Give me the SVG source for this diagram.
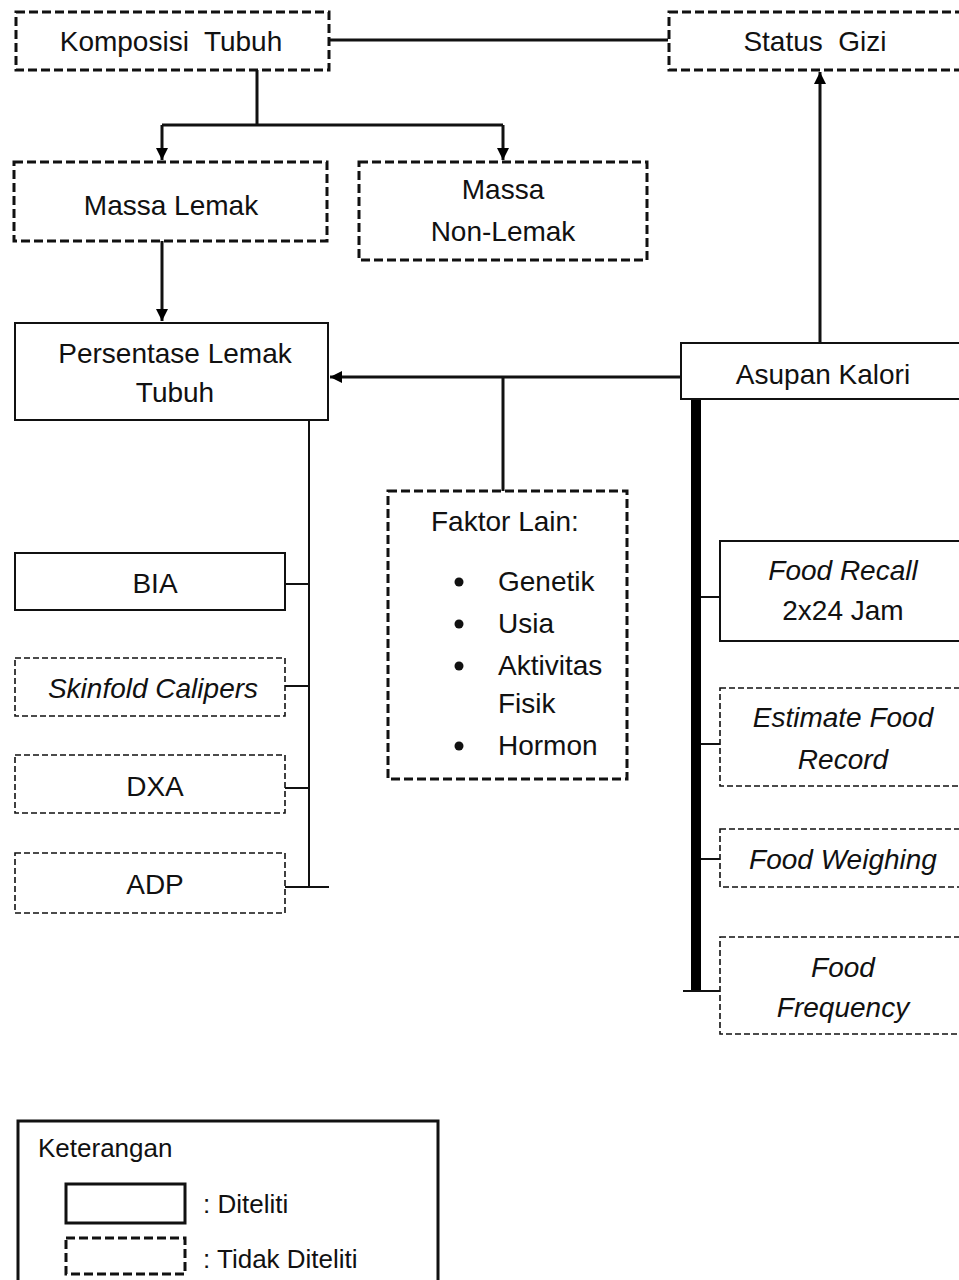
<svg xmlns="http://www.w3.org/2000/svg" width="959" height="1280" viewBox="0 0 959 1280">
<defs>
<marker id="arr" markerUnits="userSpaceOnUse" markerWidth="14" markerHeight="14" refX="12" refY="6" orient="auto">
<path d="M0,0 L12,6 L0,12 Z" fill="#000"/>
</marker>
<style>
.t{font-family:"Liberation Sans",Arial,sans-serif;font-size:28px;fill:#111;text-anchor:middle}
.l{text-anchor:start}
.i{font-style:italic}
.p{white-space:pre}
.dk{fill:#fff;stroke:#111;stroke-width:3;stroke-dasharray:9 4}
.dn{fill:#fff;stroke:#111;stroke-width:1.6;stroke-dasharray:6 3}
.s{fill:#fff;stroke:#111;stroke-width:2}
.c{fill:none;stroke:#111;stroke-width:3}
.c2{fill:none;stroke:#111;stroke-width:2}
</style>
</defs>
<rect width="959" height="1280" fill="#fff"/>

<g id="connectors">
<path class="c" d="M330,40 H668"/>
<path class="c" d="M257,70 V125 M162,125 H503"/>
<path class="c" d="M162,125 V160" marker-end="url(#arr)"/>
<path class="c" d="M503,125 V160" marker-end="url(#arr)"/>
<path class="c" d="M162,241 V321" marker-end="url(#arr)"/>
<path class="c" d="M681,377 H330" marker-end="url(#arr)"/>
<path class="c" d="M503,377 V491"/>
<path class="c" d="M820,343 V72" marker-end="url(#arr)"/>
<path class="c2" d="M309,420 V887 M285,584 H309 M285,686 H309 M285,788 H309 M285,887 H329"/>
<rect x="691" y="399" width="10" height="592" fill="#000"/>
<path class="c2" d="M701,597 H720 M701,744 H720 M701,859 H720 M683,991 H720"/>
</g>

<g id="komposisi"><rect class="dk" x="16" y="12" width="313" height="58"/><text class="t p" x="171" y="51" xml:space="preserve">Komposisi  Tubuh</text></g>
<g id="status"><rect class="dk" x="669" y="12" width="300" height="58"/><text class="t p" x="815" y="51" xml:space="preserve">Status  Gizi</text></g>
<g id="massa-lemak"><rect class="dk" x="14" y="162" width="313" height="79"/><text class="t" x="171" y="215">Massa Lemak</text></g>
<g id="massa-non"><rect class="dk" x="359" y="162" width="288" height="98"/><text class="t" x="503" y="199">Massa</text><text class="t" x="503" y="241">Non-Lemak</text></g>
<g id="persentase"><rect class="s" x="15" y="323" width="313" height="97"/><text class="t" x="175" y="363">Persentase Lemak</text><text class="t" x="175" y="402">Tubuh</text></g>
<g id="asupan"><rect class="s" x="681" y="343" width="290" height="56"/><text class="t" x="823" y="384">Asupan Kalori</text></g>
<g id="faktor">
<rect class="dk" x="388" y="491" width="239" height="288"/>
<text class="t l" x="431" y="531">Faktor Lain:</text>
<circle cx="459" cy="582" r="4.5" fill="#111"/><text class="t l" x="498" y="591">Genetik</text>
<circle cx="459" cy="624" r="4.5" fill="#111"/><text class="t l" x="498" y="633">Usia</text>
<circle cx="459" cy="666" r="4.5" fill="#111"/><text class="t l" x="498" y="675">Aktivitas</text>
<text class="t l" x="498" y="713">Fisik</text>
<circle cx="459" cy="746" r="4.5" fill="#111"/><text class="t l" x="498" y="755">Hormon</text>
</g>
<g id="bia"><rect class="s" x="15" y="553" width="270" height="57"/><text class="t" x="155" y="593">BIA</text></g>
<g id="skinfold"><rect class="dn" x="15" y="658" width="270" height="58"/><text class="t i" x="153" y="698">Skinfold Calipers</text></g>
<g id="dxa"><rect class="dn" x="15" y="755" width="270" height="58"/><text class="t" x="155" y="796">DXA</text></g>
<g id="adp"><rect class="dn" x="15" y="853" width="270" height="60"/><text class="t" x="155" y="894">ADP</text></g>
<g id="food-recall"><rect class="s" x="720" y="541" width="250" height="100"/><text class="t i" x="843" y="580">Food Recall</text><text class="t" x="843" y="620">2x24 Jam</text></g>
<g id="estimate"><rect class="dn" x="720" y="688" width="250" height="98"/><text class="t i" x="843" y="727">Estimate Food</text><text class="t i" x="843" y="769">Record</text></g>
<g id="weighing"><rect class="dn" x="720" y="829" width="250" height="58"/><text class="t i" x="843" y="869">Food Weighing</text></g>
<g id="frequency"><rect class="dn" x="720" y="937" width="250" height="97"/><text class="t i" x="843" y="977">Food</text><text class="t i" x="843" y="1017">Frequency</text></g>

<g id="legend">
<rect x="18" y="1121" width="420" height="170" fill="none" stroke="#111" stroke-width="3"/>
<text class="t l" x="38" y="1157" style="font-size:26px">Keterangan</text>
<rect x="66" y="1184" width="119" height="39" fill="none" stroke="#111" stroke-width="3"/>
<text class="t l" x="203" y="1213" style="font-size:26px">: Diteliti</text>
<rect x="66" y="1238" width="119" height="36" fill="none" stroke="#111" stroke-width="3" stroke-dasharray="9 4"/>
<text class="t l" x="203" y="1268" style="font-size:26px">: Tidak Diteliti</text>
</g>
</svg>
